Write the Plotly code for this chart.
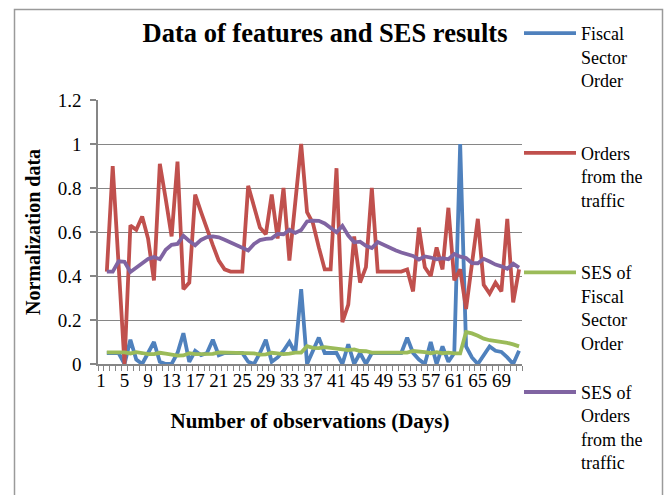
import plotly.graph_objects as go

days = list(range(1, 73))
x_tick_vals = list(range(1, 70, 4))
x_tick_text = [str(v) for v in x_tick_vals]
y_tick_vals = [0, 0.2, 0.4, 0.6, 0.8, 1.0, 1.2]
y_tick_text = ["0", "0.2", "0.4", "0.6", "0.8", "1", "1.2"]

fiscal_sector_order = [None, 0.05, 0.05, 0.05, 0.00, 0.11, 0.02, 0.00, 0.05, 0.10,
                       0.01, 0.00, 0.00, 0.05, 0.14, 0.01, 0.06, 0.04, 0.05, 0.11,
                       0.04, 0.05, 0.05, 0.05, 0.05, 0.01, 0.00, 0.05, 0.11, 0.01,
                       0.03, 0.06, 0.10, 0.05, 0.34, 0.00, 0.06, 0.12, 0.05, 0.05,
                       0.05, 0.00, 0.09, 0.00, 0.05, 0.00, 0.05, 0.05, 0.05, 0.05,
                       0.05, 0.05, 0.12, 0.05, 0.02, 0.00, 0.10, 0.00, 0.08, 0.01,
                       0.05, 1.00, 0.08, 0.03, 0.00, 0.04, 0.08, 0.06, 0.055, 0.03,
                       0.00, 0.06]

orders_from_traffic = [None, 0.42, 0.90, 0.45, 0.00, 0.63, 0.61, 0.67, 0.57, 0.38,
                       0.91, 0.75, 0.58, 0.92, 0.34, 0.37, 0.77, 0.69, 0.61, 0.54,
                       0.47, 0.43, 0.42, 0.42, 0.42, 0.81, 0.72, 0.62, 0.59, 0.77,
                       0.57, 0.80, 0.47, 0.73, 1.00, 0.69, 0.64, 0.53, 0.43, 0.43,
                       0.89, 0.19, 0.27, 0.58, 0.37, 0.44, 0.80, 0.42, 0.42, 0.42,
                       0.42, 0.42, 0.43, 0.33, 0.62, 0.44, 0.40, 0.53, 0.43, 0.71,
                       0.38, 0.43, 0.25, 0.45, 0.66, 0.36, 0.32, 0.37, 0.33, 0.66,
                       0.28, 0.43]

ses_fiscal = [None, 0.053, 0.053, 0.053, 0.053, 0.048, 0.054, 0.050, 0.045, 0.045,
              0.051, 0.047, 0.042, 0.038, 0.039, 0.049, 0.045, 0.046, 0.046, 0.046,
              0.053, 0.052, 0.052, 0.052, 0.052, 0.052, 0.048, 0.043, 0.044, 0.051,
              0.047, 0.045, 0.047, 0.052, 0.052, 0.081, 0.073, 0.072, 0.077, 0.074,
              0.072, 0.070, 0.063, 0.066, 0.059, 0.058, 0.052, 0.052, 0.052, 0.052,
              0.052, 0.052, 0.052, 0.059, 0.058, 0.054, 0.049, 0.054, 0.049, 0.052,
              0.048, 0.048, 0.145, 0.139, 0.128, 0.115, 0.108, 0.105, 0.100, 0.096,
              0.089, 0.080]

ses_orders = [None, 0.420, 0.420, 0.467, 0.465, 0.418, 0.438, 0.456, 0.477, 0.486,
              0.476, 0.519, 0.542, 0.546, 0.583, 0.559, 0.540, 0.564, 0.577, 0.580,
              0.576, 0.565, 0.552, 0.539, 0.527, 0.516, 0.546, 0.563, 0.569, 0.571,
              0.591, 0.589, 0.610, 0.596, 0.609, 0.648, 0.652, 0.651, 0.639, 0.618,
              0.599, 0.628, 0.584, 0.553, 0.556, 0.537, 0.527, 0.554, 0.541, 0.529,
              0.517, 0.507, 0.498, 0.491, 0.475, 0.489, 0.484, 0.476, 0.481, 0.476,
              0.500, 0.488, 0.482, 0.459, 0.458, 0.478, 0.466, 0.452, 0.444, 0.433,
              0.456, 0.438]

series = [
    ("Fiscal<br>Sector<br>Order<br> ", fiscal_sector_order, "#4F81BD"),
    ("Orders<br>from the<br>traffic<br> ", orders_from_traffic, "#C0504D"),
    ("SES of<br>Fiscal<br>Sector<br>Order", ses_fiscal, "#9BBB59"),
    ("SES of<br>Orders<br>from the<br>traffic", ses_orders, "#8064A2"),
]

FONT = "Liberation Serif, Times New Roman, serif"
GRID = "#868686"

fig = go.Figure()
for i, (name, vals, color) in enumerate(series):
    fig.add_trace(go.Scatter(
        x=days, y=vals, name=name, mode="lines", legendgroup=str(i),
        line=dict(color=color, width=3.8), connectgaps=False,
    ))

# chart border
L, R, T, B = 98, 522, 100, 364
def px_x(p):
    return (p - L) / (R - L)
def px_y(p):
    return (B - p) / (B - T)

fig.add_shape(type="rect", xref="paper", yref="paper",
              x0=px_x(14.5), x1=px_x(662.5), y0=px_y(505), y1=px_y(9.5),
              line=dict(color="#9a9a9a", width=1.5), fillcolor="rgba(0,0,0,0)", layer="below")

fig.update_layout(
    width=666, height=495,
    margin=dict(l=L, r=666 - R, t=T, b=495 - B, autoexpand=False),
    paper_bgcolor="white", plot_bgcolor="white",
    font=dict(family=FONT, color="black", size=19),
    title=dict(text="<b>Data of features and SES results</b>", x=325 / 666, xref="container",
               xanchor="center", y=1 - 33 / 495, yref="container", yanchor="middle",
               font=dict(family=FONT, size=26.5, color="black")),
    legend=dict(xref="container", yref="container", x=519 / 666, y=1 - 15 / 495,
                xanchor="left", yanchor="top", valign="top", tracegroupgap=23,
                font=dict(family=FONT, size=18, color="black"), bgcolor="rgba(0,0,0,0)",
                itemwidth=52, maxheight=480),
    showlegend=True,
)

fig.update_xaxes(
    range=[0.5, 72.5], tickmode="array", tickvals=x_tick_vals, ticktext=x_tick_text,
    ticks="", showgrid=False, showline=True, linecolor=GRID, linewidth=1.5,
    tickfont=dict(family=FONT, size=19), ticklabelstandoff=-2,
    minor=dict(tickmode="array", tickvals=[v + 0.5 for v in range(0, 73)], ticks="outside",
               ticklen=5, tickcolor=GRID, tickwidth=1, showgrid=False),
    title=dict(text="<b>Number of observations (Days)</b>", font=dict(family=FONT, size=21), standoff=24),
    zeroline=False,
)
fig.update_yaxes(
    range=[0, 1.2], tickmode="array", tickvals=y_tick_vals, ticktext=y_tick_text,
    ticks="outside", ticklen=6, tickcolor=GRID, tickwidth=1.5,
    showgrid=True, gridcolor=GRID, gridwidth=1.2, showline=True, linecolor=GRID, linewidth=1.5,
    tickfont=dict(family=FONT, size=19), ticklabelstandoff=5,
    title=dict(text="<b>Normalization data</b>", font=dict(family=FONT, size=20), standoff=12),
    zeroline=False,
)

fig.write_html("out.html", config={"displayModeBar": False},
               post_script="document.body.style.margin='0';document.body.style.padding='0';")
